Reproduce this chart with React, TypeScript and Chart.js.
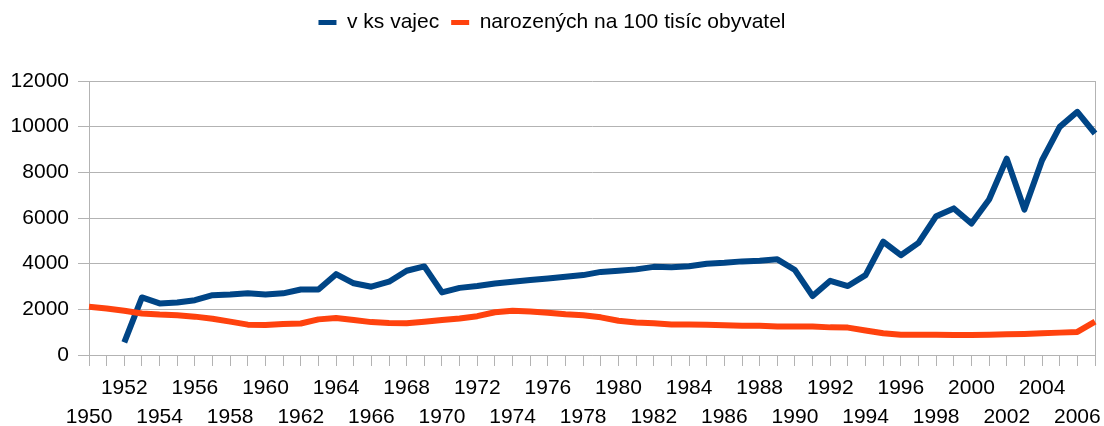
import React, { useEffect, useRef } from "react";
import { Chart, registerables } from "chart.js";

Chart.register(...registerables);

const YEARS: string[] = [
  "1950", "1951", "1952", "1953", "1954", "1955", "1956", "1957", "1958", "1959",
  "1960", "1961", "1962", "1963", "1964", "1965", "1966", "1967", "1968", "1969",
  "1970", "1971", "1972", "1973", "1974", "1975", "1976", "1977", "1978", "1979",
  "1980", "1981", "1982", "1983", "1984", "1985", "1986", "1987", "1988", "1989",
  "1990", "1991", "1992", "1993", "1994", "1995", "1996", "1997", "1998", "1999",
  "2000", "2001", "2002", "2003", "2004", "2005", "2006", "2007",
];

const EGGS: (number | null)[] = [
  null, null, 550, 2520, 2260, 2300, 2400, 2620, 2650, 2700,
  2650, 2700, 2870, 2870, 3540, 3140, 2990, 3210, 3690, 3880,
  2740, 2940, 3020, 3130, 3210, 3280, 3350, 3430, 3500, 3640,
  3690, 3750, 3860, 3840, 3890, 4000, 4040, 4100, 4130, 4190,
  3720, 2580, 3250, 3020, 3500, 4960, 4370, 4910, 6080, 6420,
  5760, 6810, 8600, 6370, 8530, 9990, 10650, 9700,
];

const BIRTHS: number[] = [
  2110, 2040, 1940, 1820, 1770, 1740, 1680, 1590, 1460, 1330,
  1310, 1360, 1380, 1560, 1620, 1530, 1440, 1400, 1390, 1460,
  1530, 1600, 1700, 1870, 1940, 1900, 1850, 1780, 1740, 1650,
  1500, 1420, 1390, 1340, 1340, 1330, 1300, 1280, 1280, 1250,
  1250, 1250, 1210, 1200, 1070, 950, 890, 890, 890, 875,
  875, 890, 905, 920, 950, 980, 1010, 1460,
];

const TOP_ROW_LABELS: string[] = [
  "1952", "1956", "1960", "1964", "1968", "1972", "1976", "1980",
  "1984", "1988", "1992", "1996", "2000", "2004",
];
const BOTTOM_ROW_LABELS: string[] = [
  "1950", "1954", "1958", "1962", "1966", "1970", "1974", "1978",
  "1982", "1986", "1990", "1994", "1998", "2002", "2006",
];

const Y_TICKS: number[] = [0, 2000, 4000, 6000, 8000, 10000, 12000];

const SERIES_NAMES = ["v ks vajec", "narozených na 100 tisíc obyvatel"];
const COLORS = ["#004586", "#ff420e"];
const GRID = "#b3b3b3";
const FONT = "'Liberation Sans', Arial, sans-serif";
const FONT_SIZE = 21;

export default function App() {
  const ref = useRef<HTMLCanvasElement | null>(null);

  useEffect(() => {
    if (!ref.current) return;

    const legendHeight = {
      id: "legendHeight",
      beforeInit(chart: any) {
        const orig = chart.legend.fit;
        chart.legend.fit = function () {
          orig.call(chart.legend);
          this.height = 81;
        };
      },
    };

    const chart = new Chart(ref.current, {
      type: "line",
      data: {
        labels: YEARS,
        datasets: [
          {
            label: SERIES_NAMES[0],
            data: EGGS,
            borderColor: COLORS[0],
            backgroundColor: COLORS[0],
            borderWidth: 6,
            pointRadius: 0,
            tension: 0,
            borderJoinStyle: "round",
            order: 0,
          },
          {
            label: SERIES_NAMES[1],
            data: BIRTHS,
            borderColor: COLORS[1],
            backgroundColor: COLORS[1],
            borderWidth: 6,
            pointRadius: 0,
            tension: 0,
            borderJoinStyle: "round",
            order: -1,
          },
        ],
      },
      plugins: [legendHeight],
      options: {
        responsive: false,
        animation: false,
        layout: { padding: 0 },
        plugins: {
          tooltip: { enabled: false },
          legend: {
            position: "top",
            align: "center",
            labels: {
              boxWidth: 18,
              boxHeight: 5,
              padding: 12,
              color: "#000",
              font: { family: FONT, size: FONT_SIZE },
              sort: (a: any, b: any) => a.datasetIndex - b.datasetIndex,
              generateLabels: (c: any) =>
                (Chart as any).defaults.plugins.legend.labels
                  .generateLabels(c)
                  .map((l: any) => ({ ...l, lineWidth: 0, fillStyle: l.strokeStyle })),
            },
          },
        },
        scales: {
          x: {
            type: "category",
            offset: false,
            grid: {
              display: true,
              drawOnChartArea: false,
              drawTicks: true,
              tickLength: 11,
              color: GRID,
            },
            border: { display: true, color: GRID, width: 1 },
            ticks: {
              autoSkip: false,
              maxRotation: 0,
              minRotation: 0,
              padding: 8,
              color: "#000",
              font: { family: FONT, size: FONT_SIZE, lineHeight: 1.37 },
              callback: function (_v: any, i: number) {
                const y = YEARS[i];
                if (TOP_ROW_LABELS.includes(y)) return [y, ""];
                if (BOTTOM_ROW_LABELS.includes(y)) return ["", y];
                return "";
              },
            },
            afterFit: (s: any) => {
              s.height = 71;
            },
          },
          y: {
            min: 0,
            max: 12000,
            position: "left",
            afterBuildTicks: (s: any) => {
              s.ticks = Y_TICKS.map((v) => ({ value: v }));
            },
            grid: {
              color: GRID,
              tickLength: 11,
              drawTicks: true,
            },
            border: { display: true, color: GRID, width: 1 },
            ticks: {
              padding: 9,
              color: "#000",
              font: { family: FONT, size: FONT_SIZE },
              callback: (v: any) => String(v),
            },
            afterFit: (s: any) => {
              s.width = 89;
            },
          },
          y2: {
            position: "right",
            min: 0,
            max: 12000,
            grid: { display: false, drawOnChartArea: false, drawTicks: false },
            border: { display: true, color: GRID, width: 1 },
            ticks: { display: false },
            afterFit: (s: any) => {
              s.width = 9;
            },
          },
        },
      },
    } as any);

    return () => {
      chart.destroy();
    };
  }, []);

  return (
    <div style={{ position: "absolute", left: 0, top: 0, width: 1104, height: 426, background: "#fff" }}>
      <canvas ref={ref} width={1104} height={426} />
    </div>
  );
}
